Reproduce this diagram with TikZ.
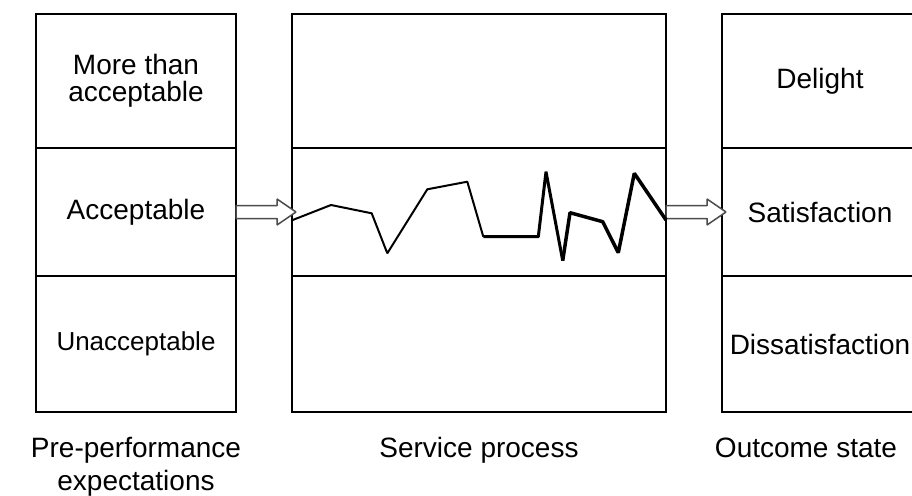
\documentclass[tikz,border=0pt]{standalone}
\usepackage{fontspec}
\setmainfont{Liberation Sans}
\usetikzlibrary{calc}
\tikzset{
  cell/.style={draw=black, line width=1.5pt, minimum width=#1, inner sep=0pt, outer sep=0pt, align=center,
    font=\fontsize{28}{27}\selectfont},
  hollow/.style={draw=black!70, line width=1.5pt, fill=white, line join=bevel},
  blockarr/.style={hollow, to path={
    let \p1=(\tikztostart), \p2=(\tikztotarget) in
    (\x1,\y1+6.5pt) -- (\x2-19pt,\y1+6.5pt) -- (\x2-19pt,\y1+13pt) -- (\x2,\y1)
    -- (\x2-19pt,\y1-13pt) -- (\x2-19pt,\y1-6.5pt) -- (\x1,\y1-6.5pt) -- cycle}},
  caption/.style={anchor=base, align=center, font=\fontsize{28}{33}\selectfont},
  zig/.style={draw=black, line join=bevel, line cap=butt}
}
\begin{document}
\begin{tikzpicture}[x=1pt,y=-1pt]
\useasboundingbox (0,0) rectangle (912,495);
% left column
\node[cell=200pt, minimum height=134pt] (preT) at (136,81) {More than\\acceptable};
\node[cell=200pt, minimum height=128pt] (preM) at (136,212) {Acceptable};
\node[cell=200pt, minimum height=136pt, font=\fontsize{26}{26}\selectfont] (preB) at (136,344) {Unacceptable};
% middle column
\node[cell=374pt, minimum height=134pt] (midT) at (479,81) {};
\node[cell=374pt, minimum height=128pt] (midM) at (479,212) {};
\node[cell=374pt, minimum height=136pt] (midB) at (479,344) {};
% right column (cut at the page edge)
\node[cell=196pt, minimum height=134pt] (outT) at (820,81) {Delight};
\node[cell=196pt, minimum height=128pt] (outM) at (820,212) {Satisfaction};
\node[cell=196pt, minimum height=136pt] (outB) at (820,344) {Dissatisfaction};
% captions
\node[caption] (capL) at (136,490) {Pre-performance\\expectations};
\node[caption] (capM) at (479,457) {Service process};
\node[caption] (capR) at (806,457) {Outcome state};
% block arrows
\draw[blockarr] (preM.east) to ($(midM.west)+(4,0)$);
\draw[blockarr] (midM.east) to ($(outM.west)+(4,0)$);
% service path
\draw[zig, line width=2pt] (292.7,220) -- (331,205) -- (371.7,213.3) -- (387.3,253.3)
  -- (427.3,189.3) -- (467.3,181.7) -- (483.3,236.7);
\draw[zig, line width=3pt] (483.3,236.7) -- (538.3,236.7) -- (546,171.7) -- (562.7,260.7);
\draw[zig, line width=3.5pt] (562.7,260.7) -- (570,212.7) -- (602.7,221.7) -- (618.3,252.7)
  -- (634.3,173.3) -- (666,220);
\end{tikzpicture}
\end{document}
